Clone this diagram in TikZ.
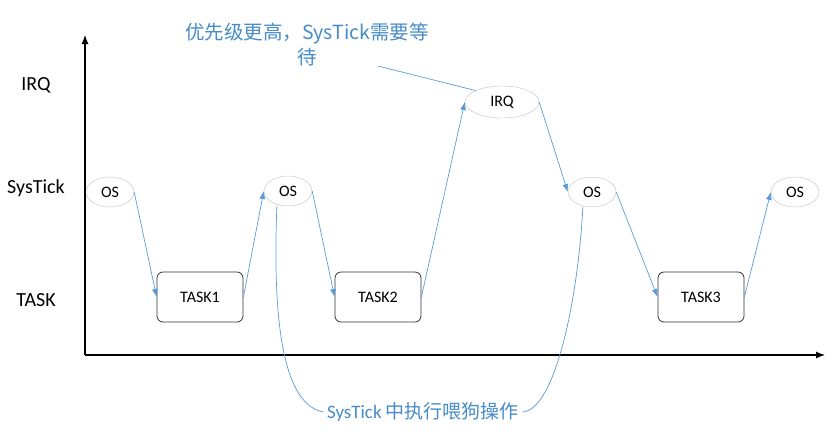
\documentclass[tikz,border=0pt]{standalone}
\usepackage{fontspec}
\setmainfont{Carlito}
\newfontfamily\cjk{Noto Sans CJK SC}
\usetikzlibrary{arrows.meta,shapes.geometric}
\definecolor{lb}{RGB}{91,155,213}
\definecolor{tb}{RGB}{70,140,200}
\begin{document}
\begin{tikzpicture}[x=1pt,y=-1pt,
  ell/.style={draw=gray!50,ellipse,minimum width=48pt,minimum height=30pt,inner sep=0pt,font=\fontsize{16}{18}\selectfont},
  tbox/.style={draw=black!80,rounded corners=6pt,minimum width=86pt,minimum height=50pt,font=\fontsize{16}{18}\selectfont,line width=0.8pt},
  conn/.style={draw=lb,line width=0.7pt,-{Latex[length=8pt,width=6pt]}},
  lbl/.style={font=\fontsize{20}{24}\selectfont}]
\useasboundingbox (0,0) rectangle (840,440);
\coordinate (o) at (85,355);
\coordinate (ytop) at (85,35);
\coordinate (xend) at (825,355);
\draw[line width=1.1pt,-{Latex[length=9pt,width=7pt]}] (o) -- (ytop);
\draw[line width=1.1pt,-{Latex[length=9pt,width=7pt]}] (o) -- (xend);
\node[lbl] (lirq) at (36,85) {IRQ};
\node[lbl] (lsys) at (36,188) {SysTick};
\node[lbl] (ltask) at (36,300) {TASK};
\node[ell] (os1) at (110,192) {OS};
\node[ell] (os2) at (288,191) {OS};
\node[ell,minimum width=74pt,minimum height=32pt] (irq) at (502,102) {IRQ};
\node[ell] (os3) at (592,192) {OS};
\node[ell] (os4) at (795,192) {OS};
\node[tbox] (t1) at (200,297) {TASK1};
\node[tbox] (t2) at (378,297) {TASK2};
\node[tbox] (t3) at (701,297) {TASK3};
\draw[conn] (os1.east) -- (t1.west);
\draw[conn] (t1.east) -- (os2.west);
\draw[conn] (os2.east) -- (t2.west);
\draw[conn] (t2.east) -- (irq.west);
\draw[conn] (irq.east) -- (os3.west);
\draw[conn] (os3.east) -- (t3.west);
\draw[conn] (t3.east) -- (os4.west);
\node[text=tb,font=\cjk\fontsize{19.5}{25}\selectfont,align=center] (note) at (307,45) {优先级更高，SysTick需要等\\待};
\coordinate (nl) at (378,66);
\draw[lb,line width=0.7pt] (nl) -- (irq.north west);
\node[text=tb,font=\fontsize{19}{24}\selectfont] (wd) at (423,412) {SysTick {\cjk 中执行喂狗操作}};
\draw[lb,line width=0.7pt] (os2.south west) ++(6,4) .. controls (272,330) and (285,405) .. (wd.west);
\draw[lb,line width=0.7pt] (os3.south west) ++(8,4) .. controls (578,300) and (555,410) .. (wd.east);
\end{tikzpicture}
\end{document}
